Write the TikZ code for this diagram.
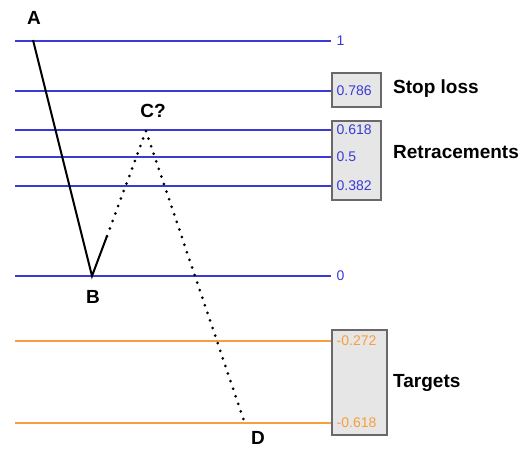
\documentclass[tikz,border=0pt]{standalone}
\usepackage{fontspec}
\setmainfont{Liberation Sans}
\usetikzlibrary{positioning}
\definecolor{levelblue}{RGB}{58,58,214}
\definecolor{levelorange}{RGB}{248,158,60}
\definecolor{boxgray}{RGB}{230,230,230}
\definecolor{boxline}{RGB}{105,105,105}

\begin{document}
\begin{tikzpicture}[x=1pt, y=-1pt,
    lbl/.style={font=\fontsize{19}{19}\selectfont\bfseries, inner sep=0pt},
    ratio/.style={font=\fontsize{14}{14}\selectfont, anchor=west, inner sep=0pt},
    levelbox/.style={draw=boxline, fill=boxgray, line width=1.2pt},
    dots/.style={line width=3pt, line cap=round, dash pattern=on 0pt off 8pt}]
    \useasboundingbox (0,0) rectangle (531,450);

    % boxes behind the ratios
    \filldraw[levelbox] (332,73) rectangle (381,107);
    \filldraw[levelbox] (332,121) rectangle (381,200);
    \filldraw[levelbox] (332,330) rectangle (387,435);

    % fibonacci levels
    \foreach \y/\val/\col [count=\i] in {41/1/levelblue, 91/0.786/levelblue,
        130/0.618/levelblue, 157/0.5/levelblue, 186/0.382/levelblue,
        276/0/levelblue, 341/-0.272/levelorange, 423/-0.618/levelorange} {
      \coordinate (L\i) at (15,\y);
      \coordinate (R\i) at (331,\y);
      \draw[draw=\col, line width=1.5pt] (L\i) -- (R\i);
      \node[ratio, text=\col] (val\i) at (336.5,\y) {\val};
    }

    % the swing
    \coordinate (A) at (33,40);
    \coordinate (B) at (92,276);
    \coordinate (Bc) at (107,236);
    \coordinate (C) at (146,131);
    \coordinate (D) at (244,421);
    \draw[line width=2pt] (A) -- (B) -- (Bc);
    \draw[dots] (Bc) -- (C) -- (D);

    \node[lbl] (labA) at (34,18) {A};
    \node[lbl] (labB) at (93,297) {B};
    \node[lbl] (labC) at (153,111) {C?};
    \node[lbl] (labD) at (258,438) {D};

    \node[lbl, anchor=west] (stop) at (393,89) {Stop loss};
    \node[lbl, anchor=west] (retr) at (393,152) {Retracements};
    \node[lbl, anchor=west] (targ) at (393,383) {Targets};
\end{tikzpicture}
\end{document}
